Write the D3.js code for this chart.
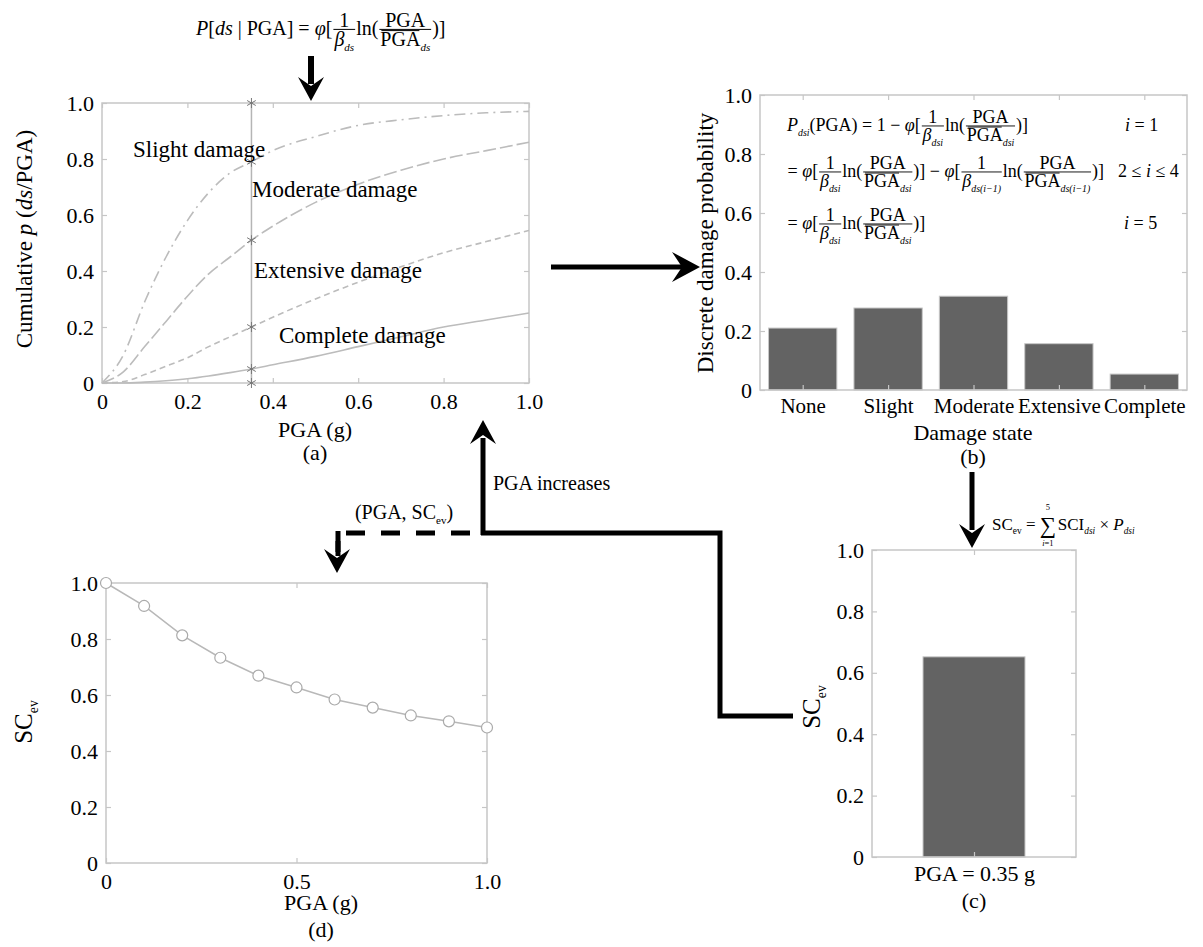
<!DOCTYPE html>
<html><head><meta charset="utf-8">
<script src="https://cdn.jsdelivr.net/npm/d3@7"></script>
<style>body{margin:0;background:#fff}svg text{font-family:'Liberation Serif','Times New Roman',Times,serif !important;fill:#000}</style>
</head><body>
<svg id="c" width="1203" height="947" font-family="'Liberation Serif','Times New Roman',Times,serif"></svg>
<script>
// ---------- DATA ----------
const pgaGrid   = [0, 0.05, 0.1, 0.15, 0.2, 0.25, 0.3, 0.35, 0.4, 0.5, 0.6, 0.7, 0.8, 0.9, 1.0];
const slight    = [0, 0.10, 0.29, 0.45, 0.58, 0.68, 0.75, 0.79, 0.83, 0.88, 0.92, 0.94, 0.955, 0.965, 0.97];
const moderate  = [0, 0.04, 0.13, 0.22, 0.31, 0.39, 0.45, 0.51, 0.56, 0.645, 0.71, 0.76, 0.80, 0.83, 0.86];
const extensive = [0, 0.005, 0.03, 0.06, 0.09, 0.13, 0.165, 0.20, 0.235, 0.30, 0.36, 0.415, 0.465, 0.505, 0.545];
const complete  = [0, 0.0, 0.003, 0.008, 0.015, 0.025, 0.037, 0.05, 0.065, 0.095, 0.13, 0.165, 0.20, 0.225, 0.25];
const curveNames = ["Slight damage", "Moderate damage", "Extensive damage", "Complete damage"];
const markerPGA = 0.35;
const markerValues = [0, 0.05, 0.20, 0.51, 0.79, 1.0];
const ticksA = [0, 0.2, 0.4, 0.6, 0.8, 1.0];

const damageStates = ["None", "Slight", "Moderate", "Extensive", "Complete"];
const discreteProb = [0.21, 0.278, 0.318, 0.157, 0.054];
const ticksB = [0, 0.2, 0.4, 0.6, 0.8, 1.0];

const barLabelC = ["PGA = 0.35 g"];
const scevC = [0.652];
const ticksC = [0, 0.2, 0.4, 0.6, 0.8, 1.0];

const pgaD  = [0, 0.1, 0.2, 0.3, 0.4, 0.5, 0.6, 0.7, 0.8, 0.9, 1.0];
const scevD = [1.0, 0.918, 0.813, 0.733, 0.669, 0.627, 0.584, 0.555, 0.527, 0.506, 0.484];
const ticksDx = [0, 0.5, 1.0];
const ticksDy = [0, 0.2, 0.4, 0.6, 0.8, 1.0];

// ---------- HELPERS ----------
const SERIF = "'Liberation Serif','Times New Roman',Times,serif";
const svg = d3.select("#c");
svg.append("rect").attr("width",1203).attr("height",947).attr("fill","#fff");
const FRAME = "#c6c6c6", CURVE = "#bcbcbc";
const fmt = d => d === 0 ? "0" : d3.format(".1f")(d);

function frame(x0, x1, y0, y1) {
  svg.append("rect").attr("x", x0).attr("y", y1).attr("width", x1 - x0).attr("height", y0 - y1)
    .attr("fill", "none").attr("stroke", FRAME).attr("stroke-width", 1.5);
}
function styleAxis(g, fs) {
  g.attr("font-family", SERIF);
  g.select(".domain").remove();
  g.selectAll(".tick line").attr("stroke", FRAME).attr("stroke-width", 1.2);
  g.selectAll(".tick text").attr("font-size", fs).attr("fill", "#000").style("font-family", SERIF);
}
function innerTicks(x, y, xt, yt, xr, yr, opts = {}) {
  const gb = svg.append("g").attr("transform", `translate(0,${yr[0]})`)
    .call(d3.axisBottom(x).tickValues(xt).tickFormat(opts.xfmt || fmt).tickSizeInner(-5).tickSizeOuter(0).tickPadding(opts.xpad || 10));
  styleAxis(gb, opts.xfs || opts.fs || 22);
  const gl = svg.append("g").attr("transform", `translate(${xr[0]},0)`)
    .call(d3.axisLeft(y).tickValues(yt).tickFormat(fmt).tickSizeInner(-5).tickSizeOuter(0).tickPadding(opts.ypad || 8));
  styleAxis(gl, opts.fs || 22);
  const gt = svg.append("g").attr("transform", `translate(0,${yr[1]})`)
    .call(d3.axisTop(x).tickValues(xt).tickFormat("").tickSizeInner(-5).tickSizeOuter(0));
  styleAxis(gt, 1);
  const gr = svg.append("g").attr("transform", `translate(${xr[1]},0)`)
    .call(d3.axisRight(y).tickValues(yt).tickFormat("").tickSizeInner(-5).tickSizeOuter(0));
  styleAxis(gr, 1);
  return {gb, gl};
}
function label(txt, x, y, fs, anchor = "middle", rot = 0) {
  const t = svg.append("text").attr("font-size", fs).attr("text-anchor", anchor).style("font-family", SERIF)
    .attr("transform", `translate(${x},${y}) rotate(${rot})`);
  if (Array.isArray(txt)) txt.forEach(p => {
    const s = t.append("tspan").text(p.t);
    if (p.i) s.attr("font-style", "italic");
    if (p.sub) s.attr("font-size", fs * 0.55).attr("dy", fs * 0.25);
    if (p.up) s.attr("dy", -fs * 0.25);
  });
  else t.text(txt);
  return t;
}
// simple math layout
function renderMath(g, items, x, y, fs) {
  let cx = x;
  for (const it of items) {
    if (typeof it === "string" || it.i !== undefined || it.o !== undefined) {
      const s = typeof it === "string" ? it : (it.i !== undefined ? it.i : it.o);
      const t = g.append("text").attr("x", cx).attr("y", y).attr("font-size", fs).text(s).style("white-space", "pre").style("font-family", SERIF);
      if (it.i !== undefined) t.attr("font-style", "italic");
      const w = t.node().getComputedTextLength();
      if (it.o !== undefined) g.append("line").attr("x1", cx + 1).attr("x2", cx + w - 1)
        .attr("y1", y - fs * 0.78).attr("y2", y - fs * 0.78).attr("stroke", "#000").attr("stroke-width", fs * 0.05);
      cx += w;
    } else if (it.sub !== undefined) {
      const t = g.append("text").attr("x", cx).attr("y", y + fs * 0.25).attr("font-size", fs * 0.55).style("font-family", SERIF)
        .attr("font-style", it.roman ? "normal" : "italic").text(it.sub);
      cx += t.node().getComputedTextLength();
    } else if (it.frac) {
      const gn = g.append("g"), gd = g.append("g");
      const wn = renderMath(gn, it.frac[0], 0, 0, fs);
      const wd = renderMath(gd, it.frac[1], 0, 0, fs);
      const w = Math.max(wn, wd) + fs * 0.2;
      const axis = y - fs * 0.28;
      gn.attr("transform", `translate(${cx + (w - wn) / 2},${axis - fs * 0.14})`);
      gd.attr("transform", `translate(${cx + (w - wd) / 2},${axis + fs * 0.84})`);
      g.append("line").attr("x1", cx + 1).attr("x2", cx + w - 1).attr("y1", axis).attr("y2", axis)
        .attr("stroke", "#000").attr("stroke-width", fs * 0.05);
      cx += w;
    } else if (it.sum) {
      const t = g.append("text").attr("x", cx).attr("y", y + fs * 0.15).attr("font-size", fs * 1.35).style("font-family", SERIF).text("\u2211");
      const w = t.node().getComputedTextLength();
      g.append("text").attr("x", cx + w / 2).attr("y", y - fs * 1.15).attr("font-size", fs * 0.5).attr("text-anchor", "middle").style("font-family", SERIF).text(it.top);
      const b = g.append("text").attr("x", cx + w / 2).attr("y", y + fs * 0.95).attr("font-size", fs * 0.5).attr("text-anchor", "middle").style("font-family", SERIF);
      b.append("tspan").attr("font-style", "italic").text("i");
      b.append("tspan").text("=1");
      cx += w + fs * 0.1;
    }
  }
  return cx - x;
}
function arrowHead(x, y, dir, L = 24, W = 13, N = 9) {
  let p;
  if (dir === "down") p = [[x, y], [x - W, y - L], [x, y - L + N], [x + W, y - L]];
  if (dir === "up") p = [[x, y], [x - W, y + L], [x, y + L - N], [x + W, y + L]];
  if (dir === "right") p = [[x, y], [x - L, y - W], [x - L + N, y], [x - L, y + W]];
  svg.append("path").attr("d", "M" + p.map(q => q.join(",")).join("L") + "Z").attr("fill", "#000");
}

// ---------- PANEL (a) ----------
const xA = d3.scaleLinear().domain([0, 1]).range([102, 529]);
const yA = d3.scaleLinear().domain([0, 1]).range([383, 103]);
frame(102, 529, 383, 103);
innerTicks(xA, yA, ticksA, ticksA, [102, 529], [383, 103]);
const lineA = d3.line().x((d, i) => xA(pgaGrid[i])).y(d => yA(d)).curve(d3.curveMonotoneX);
const seriesA = [slight, moderate, extensive, complete];
const dashes = ["11,5,2,5", "13,4", "6,4", null];
seriesA.forEach((s, k) => {
  const p = svg.append("path").attr("d", lineA(s)).attr("fill", "none").attr("stroke", CURVE).attr("stroke-width", 1.6);
  if (dashes[k]) p.attr("stroke-dasharray", dashes[k]);
});
svg.append("line").attr("x1", xA(markerPGA)).attr("x2", xA(markerPGA)).attr("y1", yA(0)).attr("y2", yA(1))
  .attr("stroke", "#b5b5b5").attr("stroke-width", 1.5);
markerValues.forEach(v => {
  const cx = xA(markerPGA), cy = yA(v), r = 5;
  const g = svg.append("g").attr("stroke", "#777").attr("stroke-width", 1);
  [0, 60, 120].forEach(a => {
    const rad = a * Math.PI / 180;
    g.append("line").attr("x1", cx - r * Math.sin(rad)).attr("x2", cx + r * Math.sin(rad))
      .attr("y1", cy - r * Math.cos(rad)).attr("y2", cy + r * Math.cos(rad));
  });
});
label(curveNames[0], 133, 157, 23, "start");
label(curveNames[1], 252, 197, 23, "start");
label(curveNames[2], 254, 278, 23, "start");
label(curveNames[3], 279, 343, 23, "start");
label("PGA (g)", 315, 437, 22);
label("(a)", 315, 460, 22);
label([{t: "Cumulative "}, {t: "p", i: true}, {t: " ("}, {t: "ds", i: true}, {t: "/PGA)"}], 32, 239, 23, "middle", -90);

// top formula
renderMath(svg.append("g"), [{i: "P"}, "[", {i: "ds"}, " | PGA] = ", {i: "\u03c6"}, "[",
  {frac: [["1"], [{i: "\u03b2"}, {sub: "ds"}]]}, "ln(", {frac: [["PGA"], [{o: "PGA"}, {sub: "ds"}]]}, ")]"], 196, 35, 20);
svg.append("line").attr("x1", 311).attr("x2", 311).attr("y1", 56).attr("y2", 84).attr("stroke", "#000").attr("stroke-width", 6);
arrowHead(311, 101, "down");

// arrow a -> b
svg.append("line").attr("x1", 551).attr("x2", 682).attr("y1", 267).attr("y2", 267).attr("stroke", "#000").attr("stroke-width", 5);
arrowHead(700, 267, "right", 28, 15, 10);

// ---------- PANEL (b) ----------
const xB = d3.scaleBand().domain(damageStates).range([760, 1187]).paddingInner(0.2).paddingOuter(0.1);
const yB = d3.scaleLinear().domain([0, 1]).range([390, 95]);
svg.selectAll(".barB").data(discreteProb).enter().append("rect")
  .attr("x", (d, i) => xB(damageStates[i])).attr("width", xB.bandwidth())
  .attr("y", d => yB(d)).attr("height", d => yB(0) - yB(d))
  .attr("fill", "#636363").attr("stroke", "#c8c8c8").attr("stroke-width", 1);
frame(760, 1187, 390, 95);
{
  const xc = d3.scalePoint().domain(damageStates).range([xB(damageStates[0]) + xB.bandwidth() / 2, xB(damageStates[4]) + xB.bandwidth() / 2]);
  innerTicks(xc, yB, damageStates, ticksB, [760, 1187], [390, 95], {xfmt: d => d, xpad: 8, xfs: 21});
}
label("Damage state", 973, 440, 22);
label("(b)", 973, 464, 22);
label("Discrete damage probability", 713, 243, 23, "middle", -90);
const fsB = 18;
renderMath(svg.append("g"), [{i: "P"}, {sub: "dsi"}, "(PGA) = 1 \u2212 ", {i: "\u03c6"}, "[",
  {frac: [["1"], [{i: "\u03b2"}, {sub: "dsi"}]]}, "ln(", {frac: [["PGA"], [{o: "PGA"}, {sub: "dsi"}]]}, ")]"], 787, 131, fsB);
renderMath(svg.append("g"), [" = ", {i: "\u03c6"}, "[",
  {frac: [["1"], [{i: "\u03b2"}, {sub: "dsi"}]]}, "ln(", {frac: [["PGA"], [{o: "PGA"}, {sub: "dsi"}]]}, ")] \u2212 ",
  {i: "\u03c6"}, "[", {frac: [["1"], [{i: "\u03b2"}, {sub: "ds(i\u22121)"}]]}, "ln(", {frac: [["PGA"], [{o: "PGA"}, {sub: "ds(i\u22121)"}]]}, ")]"], 783, 177, fsB);
renderMath(svg.append("g"), [" = ", {i: "\u03c6"}, "[",
  {frac: [["1"], [{i: "\u03b2"}, {sub: "dsi"}]]}, "ln(", {frac: [["PGA"], [{o: "PGA"}, {sub: "dsi"}]]}, ")]"], 783, 229, fsB);
renderMath(svg.append("g"), [{i: "i"}, " = 1"], 1125, 131, fsB);
renderMath(svg.append("g"), ["2 \u2264 ", {i: "i"}, " \u2264 4"], 1118, 177, fsB);
renderMath(svg.append("g"), [{i: "i"}, " = 5"], 1124, 229, fsB);

// arrow b -> c
svg.append("line").attr("x1", 972).attr("x2", 972).attr("y1", 472).attr("y2", 530).attr("stroke", "#000").attr("stroke-width", 5);
arrowHead(972, 548, "down");
renderMath(svg.append("g"), ["SC", {sub: "ev", roman: true}, " = ", {sum: true, top: "5"}, "SCI", {sub: "dsi"}, " \u00d7 ", {i: "P"}, {sub: "dsi"}], 992, 530, 17);

// ---------- PANEL (c) ----------
const xC = d3.scaleBand().domain(barLabelC).range([872, 1076]).paddingInner(0).paddingOuter(0.5);
const yC = d3.scaleLinear().domain([0, 1]).range([857, 550]);
svg.selectAll(".barC").data(scevC).enter().append("rect")
  .attr("x", (d, i) => xC(barLabelC[i])).attr("width", xC.bandwidth())
  .attr("y", d => yC(d)).attr("height", d => yC(0) - yC(d))
  .attr("fill", "#636363").attr("stroke", "#c8c8c8").attr("stroke-width", 1);
frame(872, 1076, 857, 550);
{
  const xc = d3.scalePoint().domain(barLabelC).range([974, 974]);
  innerTicks(xc, yC, barLabelC, ticksC, [872, 1076], [857, 550], {xfmt: d => d, xpad: 8});
}
label("(c)", 974, 908, 22);
label([{t: "SC"}, {t: "ev", sub: true}], 820, 707, 25, "middle", -90);

// ---------- PANEL (d) ----------
const xD = d3.scaleLinear().domain([0, 1]).range([106, 487]);
const yD = d3.scaleLinear().domain([0, 1]).range([863, 583]);
frame(106, 487, 863, 583);
innerTicks(xD, yD, ticksDx, ticksDy, [106, 487], [863, 583]);
svg.append("path").attr("d", d3.line().x((d, i) => xD(pgaD[i])).y(d => yD(d))(scevD))
  .attr("fill", "none").attr("stroke", "#b8b8b8").attr("stroke-width", 1.5);
svg.selectAll(".ptD").data(scevD).enter().append("circle")
  .attr("cx", (d, i) => xD(pgaD[i])).attr("cy", d => yD(d)).attr("r", 5.5)
  .attr("fill", "#fff").attr("stroke", "#aaa").attr("stroke-width", 1.2);
label("PGA (g)", 321, 910, 22);
label("(d)", 321, 937, 22);
label([{t: "SC"}, {t: "ev", sub: true}], 32, 722, 25, "middle", -90);

// ---------- connectors ----------
svg.append("line").attr("x1", 483).attr("x2", 483).attr("y1", 535).attr("y2", 438).attr("stroke", "#000").attr("stroke-width", 5);
arrowHead(483, 420, "up");
svg.append("path").attr("d", "M481,533H720V716H793").attr("fill", "none").attr("stroke", "#000").attr("stroke-width", 5);
svg.append("path").attr("d", "M470,533H338V552").attr("fill", "none").attr("stroke", "#000").attr("stroke-width", 5)
  .attr("stroke-dasharray", "19,16");
svg.append("line").attr("x1", 338).attr("x2", 338).attr("y1", 531).attr("y2", 556).attr("stroke", "#000").attr("stroke-width", 5);
arrowHead(337, 573, "down");
label("PGA increases", 493, 490, 20, "start");
label([{t: "(PGA, SC"}, {t: "ev", sub: true}, {t: ")", up: true}], 404, 519, 20);
</script>
</body></html>
